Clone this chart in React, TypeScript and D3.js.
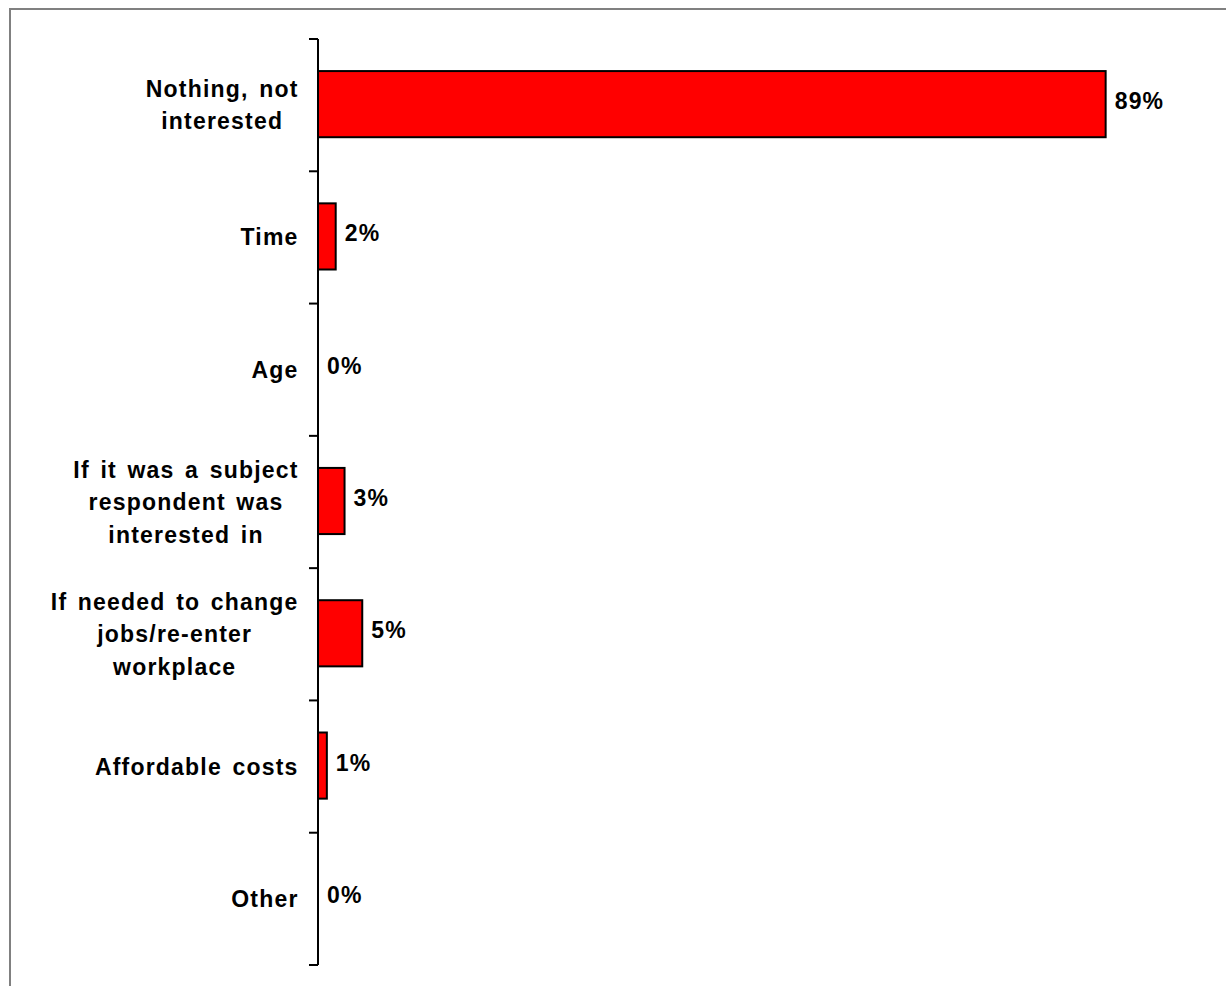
import React from "react";
import * as d3 from "d3";

const categories: string[][] = [
  ["Nothing, not", "interested"],
  ["Time"],
  ["Age"],
  ["If it was a subject", "respondent was", "interested in"],
  ["If needed to change", "jobs/re-enter", "workplace"],
  ["Affordable costs"],
  ["Other"],
];
const values: number[] = [89, 2, 0, 3, 5, 1, 0];
const valueLabels: string[] = ["89%", "2%", "0%", "3%", "5%", "1%", "0%"];

const W = 1226;
const H = 986;
const FONT = "'Liberation Sans', Arial, sans-serif";
const FS = 23;
const LS = 1.2;
const WS = 3;
const LH = 32.5;

function measure(s: string): number {
  const c = document.createElement("canvas").getContext("2d")!;
  c.font = `bold ${FS}px ${FONT}`;
  const spaces = (s.match(/ /g) || []).length;
  return c.measureText(s).width + LS * (s.length - 1) + WS * spaces;
}

export default function App() {
  const axisX = 318;
  const x = d3.scaleLinear().domain([0, 100]).range([axisX, 1203]);
  const idx = categories.map((_, i) => i);
  const y = d3.scaleBand<number>().domain(idx).range([39, 965]).paddingInner(0.5).paddingOuter(0.25);
  const band = d3.scaleBand<number>().domain(idx).range([39, 965]);
  const ticks = d3.range(categories.length + 1).map((i) => 39 + i * band.step());
  const labelRight = 298;

  return (
    <svg width={W} height={H} style={{ position: "absolute", left: 0, top: 0, background: "#fff" }}>
      <rect x={10} y={9} width={1400} height={1200} fill="none" stroke="#808080" strokeWidth={2} />
      {idx.map((i) => (
        <rect
          key={"b" + i}
          x={x(0)}
          y={y(i)! - 1}
          width={Math.max(0, x(values[i]) - x(0))}
          height={y.bandwidth()}
          fill="#ff0000"
          stroke="#000"
          strokeWidth={values[i] > 0 ? 2 : 0}
        />
      ))}
      <line x1={axisX} x2={axisX} y1={ticks[0]} y2={ticks[ticks.length - 1]} stroke="#000" strokeWidth={2} />
      {ticks.map((t, i) => (
        <line key={"t" + i} x1={axisX - 9} x2={axisX} y1={t} y2={t} stroke="#000" strokeWidth={2} />
      ))}
      {idx.map((i) => {
        const lines = categories[i];
        const maxW = Math.max(...lines.map(measure));
        const cx = labelRight - maxW / 2;
        const cy = band(i)! + band.bandwidth() / 2;
        const first = cy - ((lines.length - 1) * LH) / 2 + 8;
        return (
          <text
            key={"c" + i}
            textAnchor="middle"
            fontFamily={FONT}
            fontWeight="bold"
            fontSize={FS}
            letterSpacing={LS}
            wordSpacing={WS}
            fill="#000"
          >
            {lines.map((l, j) => (
              <tspan key={j} x={cx} y={first + j * LH}>
                {l}
              </tspan>
            ))}
          </text>
        );
      })}
      {idx.map((i) => (
        <text
          key={"v" + i}
          x={x(values[i]) + 9}
          y={band(i)! + band.bandwidth() / 2 + 4}
          fontFamily={FONT}
          fontWeight="bold"
          fontSize={FS}
          letterSpacing={LS}
          fill="#000"
        >
          {valueLabels[i]}
        </text>
      ))}
    </svg>
  );
}
